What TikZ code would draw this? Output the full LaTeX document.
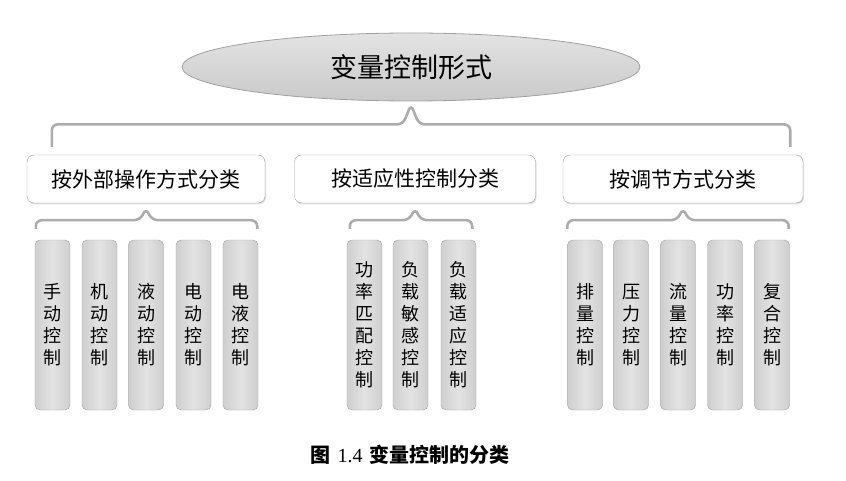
\documentclass[tikz,border=0pt]{standalone}
\usepackage{fontspec}
\newfontfamily\cjk{Noto Sans CJK SC}
\newfontfamily\capnum{Liberation Serif}
\usetikzlibrary{shapes.geometric,shadows}
\colorlet{edge}{gray!75}
\colorlet{bracecol}{gray!65}
\tikzset{oval/.style={ellipse,draw=edge,thick,top color=gray!22,bottom color=gray!42,minimum width=458pt,minimum height=68pt,inner sep=0pt,font=\cjk\fontsize{27pt}{30pt}\selectfont}}
\tikzset{catbox/.style={rectangle,rounded corners=7pt,draw=edge,fill=white,drop shadow={opacity=0.25,shadow xshift=1pt,shadow yshift=-1.5pt},minimum height=48pt,inner sep=0pt,font=\cjk\fontsize{21pt}{24pt}\selectfont}}
\tikzset{tallbox/.style={rectangle,rounded corners=5pt,draw=edge,left color=gray!38,right color=gray!38,middle color=gray!22,minimum width=35pt,minimum height=170pt,inner sep=0pt,align=center,font=\cjk\fontsize{18pt}{22pt}\selectfont}}
\tikzset{brace/.style={draw=bracecol,line width=2.6pt,rounded corners=6pt}}

\begin{document}
\begin{tikzpicture}[x=1pt,y=1pt]
	    \useasboundingbox (0,0) rectangle (846,480);
	    \node[oval] (root) at (411,413) {变量控制形式};
	    % second level
	    \node[catbox,minimum width=238pt] (c1) at (146,301) {按外部操作方式分类};
	    \node[catbox,minimum width=241pt] (c2) at (415,301) {按适应性控制分类};
	    \node[catbox,minimum width=240pt] (c3) at (683,301) {按调节方式分类};
	    % third level
	    \node[tallbox] (a1) at (52.5,155) {手\\动\\控\\制};
	    \node[tallbox] (a2) at (99.5,155) {机\\动\\控\\制};
	    \node[tallbox] (a3) at (146,155) {液\\动\\控\\制};
	    \node[tallbox] (a4) at (193.5,155) {电\\动\\控\\制};
	    \node[tallbox] (a5) at (240.5,155) {电\\液\\控\\制};
	    \node[tallbox] (b1) at (364.5,155) {功\\率\\匹\\配\\控\\制};
	    \node[tallbox] (b2) at (410.5,155) {负\\载\\敏\\感\\控\\制};
	    \node[tallbox] (b3) at (458.5,155) {负\\载\\适\\应\\控\\制};
	    \node[tallbox] (d1) at (585,155) {排\\量\\控\\制};
	    \node[tallbox] (d2) at (631,155) {压\\力\\控\\制};
	    \node[tallbox] (d3) at (678,155) {流\\量\\控\\制};
	    \node[tallbox] (d4) at (725,155) {功\\率\\控\\制};
	    \node[tallbox] (d5) at (772,155) {复\\合\\控\\制};
	    % brace ends
	    \coordinate (rl) at ([xshift=25pt,yshift=8pt]c1.north west);
	    \coordinate (rr) at ([xshift=-13pt,yshift=8pt]c3.north east);
	    \coordinate (al) at ([xshift=1pt,yshift=11pt]a1.north west);
	    \coordinate (ar) at ([xshift=-1pt,yshift=11pt]a5.north east);
	    \coordinate (bl) at ([xshift=3pt,yshift=11pt]b1.north west);
	    \coordinate (br) at ([xshift=-4pt,yshift=11pt]b3.north east);
	    \coordinate (dl) at ([xshift=0pt,yshift=11pt]d1.north west);
	    \coordinate (dr) at ([xshift=-1pt,yshift=11pt]d5.north east);
	    \draw[brace] (rl) |- ([xshift=-8pt,yshift=-23pt]root.south) -- ([yshift=-3pt]root.south) -- ([xshift=8pt,yshift=-23pt]root.south) -| (rr);
	    \draw[brace] (al) |- ([xshift=-6pt,yshift=-17pt]c1.south) -- ([yshift=-5pt]c1.south) -- ([xshift=6pt,yshift=-17pt]c1.south) -| (ar);
	    \draw[brace] (bl) |- ([xshift=-6pt,yshift=-17pt]c2.south) -- ([yshift=-5pt]c2.south) -- ([xshift=6pt,yshift=-17pt]c2.south) -| (br);
	    \draw[brace] (dl) |- ([xshift=-6pt,yshift=-17pt]c3.south) -- ([yshift=-5pt]c3.south) -- ([xshift=6pt,yshift=-17pt]c3.south) -| (dr);
	    % caption
	    \node[font=\cjk\bfseries\fontsize{20pt}{24pt}\selectfont] (cap) at (410,25) {图\hspace{7pt}{\capnum\mdseries 1.4}\hspace{7pt}变量控制的分类};
\end{tikzpicture}
\end{document}
